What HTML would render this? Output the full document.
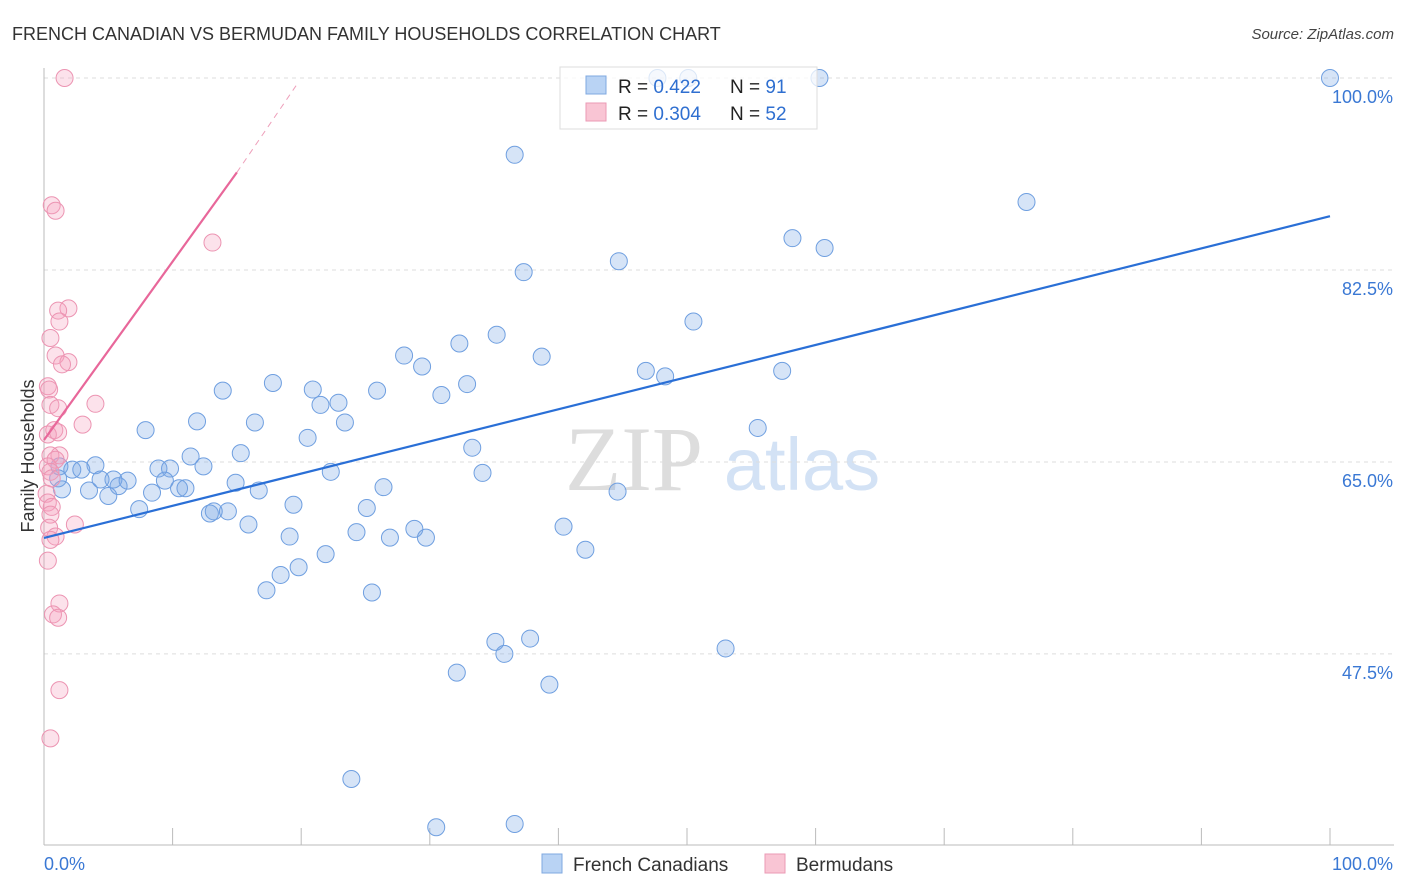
<!DOCTYPE html>
<html><head><meta charset="utf-8"><style>
body{margin:0;background:#fff;font-family:"Liberation Sans",sans-serif;}
</style></head><body>
<svg width="1406" height="892" xmlns="http://www.w3.org/2000/svg" style="display:block">
<text x="12" y="40" font-size="18" fill="#333">FRENCH CANADIAN VS BERMUDAN FAMILY HOUSEHOLDS CORRELATION CHART</text>
<text x="1394" y="39" font-size="15" fill="#444" text-anchor="end" font-style="italic">Source: ZipAtlas.com</text>
<g>
<text x="634" y="490" font-size="92" fill="#ddd" text-anchor="middle" font-family="Liberation Serif">ZIP</text>
<text x="802" y="490" font-size="74" fill="#d3e2f5" text-anchor="middle">atlas</text>
</g>
<g id="grid"></g>
<g id="axes"></g>
<g id="marks"></g>
<g>
<rect x="560" y="67" width="257" height="62" fill="rgba(255,255,255,0.75)" stroke="#ddd"/>
<rect x="586" y="76" width="20" height="18" fill="#b9d3f4" stroke="#7fa8e0"/>
<rect x="586" y="103" width="20" height="18" fill="#f9c5d4" stroke="#eb9ab5"/>
<text x="618" y="93" font-size="19" fill="#222">R = <tspan fill="#2f6fd0">0.422</tspan></text>
<text x="730" y="93" font-size="19" fill="#222">N = <tspan fill="#2f6fd0"> 91</tspan></text>
<text x="618" y="120" font-size="19" fill="#222">R = <tspan fill="#2f6fd0">0.304</tspan></text>
<text x="730" y="120" font-size="19" fill="#222">N = <tspan fill="#2f6fd0">52</tspan></text>
</g>
<g>
<rect x="542" y="854" width="20" height="19" fill="#b9d3f4" stroke="#7fa8e0"/>
<text x="573" y="871" font-size="19" fill="#333">French Canadians</text>
<rect x="765" y="854" width="20" height="19" fill="#f9c5d4" stroke="#eb9ab5"/>
<text x="796" y="871" font-size="19" fill="#333">Bermudans</text>
</g>
<text transform="translate(34,456) rotate(-90)" font-size="18" fill="#333" text-anchor="middle">Family Households</text>
</svg>
<script>
const yTicks=[100,82.5,65,47.5];
const yTickLabels=["100.0%","82.5%","65.0%","47.5%"];
const blueX=[36.6,60.3,100,47.7,50.1,76.4,58.2,60.7,44.7,37.3,50.5,35.2,32.3,28.0,38.7,29.4,46.8,48.3,57.4,17.8,20.9,32.9,13.9,25.9,30.9,21.5,22.9,11.9,16.4,23.4,7.9,55.5,20.5,33.3,15.3,11.4,4.0,12.4,8.9,9.8,2.2,2.9,1.2,22.3,34.1,5.4,6.5,9.4,14.9,4.4,1.1,5.8,1.4,3.5,10.5,11.0,26.4,16.7,8.4,44.6,5.0,19.4,7.4,25.1,12.9,14.3,13.2,15.9,40.4,24.3,28.8,19.1,26.9,29.7,42.1,21.9,19.8,18.4,17.3,25.5,35.1,35.8,37.8,53.0,32.1,39.3,23.9,30.5,36.6];
const blueY=[93.0,100,100,100,100,88.7,85.4,84.5,83.3,82.3,77.8,76.6,75.8,74.7,74.6,73.7,73.3,72.8,73.3,72.2,71.6,72.1,71.5,71.5,71.1,70.2,70.4,68.7,68.6,68.6,67.9,68.1,67.2,66.3,65.8,65.5,64.7,64.6,64.4,64.4,64.3,64.3,64.6,64.1,64.0,63.4,63.3,63.3,63.1,63.4,63.5,62.8,62.5,62.4,62.6,62.6,62.7,62.4,62.2,62.3,61.9,61.1,60.7,60.8,60.3,60.5,60.5,59.3,59.1,58.6,58.9,58.2,58.1,58.1,57.0,56.6,55.4,54.7,53.3,53.1,48.6,47.5,48.9,48.0,45.8,44.7,36.1,31.7,32.0];
const pinkX=[1.6,0.6,0.9,13.1,1.9,1.1,1.2,0.5,0.9,1.9,1.4,0.3,0.4,4.0,0.5,1.1,3.0,0.8,0.3,1.1,1.2,0.5,0.9,0.3,0.5,0.6,0.2,0.3,0.6,0.5,2.4,0.4,0.9,0.5,0.3,1.2,0.7,1.1,1.2,0.5];
const pinkY=[100,88.4,87.9,85.0,79.0,78.8,77.8,76.3,74.7,74.1,73.9,71.9,71.6,70.3,70.2,69.9,68.4,67.9,67.5,67.7,65.6,65.6,65.2,64.6,64.1,63.5,62.1,61.3,60.9,60.2,59.3,59.0,58.2,57.9,56.0,52.1,51.1,50.8,44.2,39.8];
const blueTrend=[[0,58.07],[100,87.4]];
const pinkTrend=[[0,67.0],[15,91.4],[19.6,99.3]];
const NS="http://www.w3.org/2000/svg";
const X=v=>44+v*12.86, Y=v=>78+(100-v)*10.97;
function mk(t,a,p){const e=document.createElementNS(NS,t);for(const k in a)e.setAttribute(k,a[k]);p.appendChild(e);return e;}
const grid=document.getElementById('grid'),axes=document.getElementById('axes'),marks=document.getElementById('marks');
yTicks.forEach((v,i)=>{
 const l=mk('line',{x1:44,x2:1394,y1:Y(v),y2:Y(v),stroke:'#ddd','stroke-dasharray':'4,4'},grid);
 
 
 const t=mk('text',{x:1393,y:Y(v)+25,'font-size':18,fill:'#3a78d4','text-anchor':'end'},axes);
 t.textContent=yTickLabels[i];
 
 
});
mk('line',{x1:44,x2:44,y1:68,y2:845,stroke:'#bbb'},axes);
mk('line',{x1:44,x2:1394,y1:845,y2:845,stroke:'#bbb'},axes);
for(let i=0;i<=10;i++){const tk=mk('line',{x1:X(i*10),x2:X(i*10),y1:828,y2:845,stroke:'#bbb'},axes);
 
 }
let t=mk('text',{x:44,y:870,'font-size':18,fill:'#3a78d4'},axes);t.textContent='0.0%';


t=mk('text',{x:1393,y:870,'font-size':18,fill:'#3a78d4','text-anchor':'end'},axes);t.textContent='100.0%';


blueX.forEach((x,i)=>{const c=mk('circle',{cx:X(x),cy:Y(blueY[i]),r:8.5,fill:'rgba(120,165,230,0.3)',stroke:'#6f9fe0','stroke-width':1},marks);
 
 });
pinkX.forEach((x,i)=>{const c=mk('circle',{cx:X(x),cy:Y(pinkY[i]),r:8.5,fill:'rgba(245,160,190,0.3)',stroke:'#ec94b2','stroke-width':1},marks);
 
 });
let ln=mk('line',{x1:X(blueTrend[0][0]),y1:Y(blueTrend[0][1]),x2:X(blueTrend[1][0]),y2:Y(blueTrend[1][1]),stroke:'#2a6fd6','stroke-width':2.2},marks);


ln=mk('line',{x1:X(pinkTrend[0][0]),y1:Y(pinkTrend[0][1]),x2:X(pinkTrend[1][0]),y2:Y(pinkTrend[1][1]),stroke:'#e8679a','stroke-width':2.2},marks);


ln=mk('line',{x1:X(pinkTrend[1][0]),y1:Y(pinkTrend[1][1]),x2:X(pinkTrend[2][0]),y2:Y(pinkTrend[2][1]),stroke:'#eea0bb','stroke-width':1,'stroke-dasharray':'6,5'},marks);


</script>
</body></html>
